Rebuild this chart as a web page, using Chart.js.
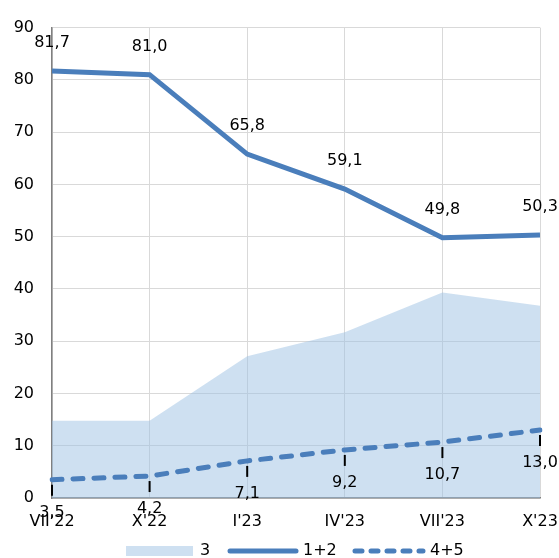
<!DOCTYPE html>
<html>
<head>
<meta charset="utf-8">
<script src="https://cdn.jsdelivr.net/npm/chart.js@4"></script>
<style>
  html, body { margin: 0; padding: 0; background: #fff; }
  #wrap { width: 559px; height: 558px; }
</style>
</head>
<body>
<div id="wrap"><canvas id="chart" width="559" height="558"></canvas></div>
<script>
// dane
const periods = ["VII'22", "X'22", "I'23", "IV'23", "VII'23", "X'23"];
const share3 = [14.8, 14.8, 27.1, 31.7, 39.3, 36.8];
const share12 = [81.7, 81.0, 65.8, 59.1, 49.8, 50.3];
const share45 = [3.5, 4.2, 7.1, 9.2, 10.7, 13.0];
const yTicks = [0, 10, 20, 30, 40, 50, 60, 70, 80, 90];

const FONT = '"DejaVu Sans", Verdana, sans-serif';
const BLUE = '#4a7ebb';
const AREA = 'rgba(157,193,227,0.5)';
const AREA_LEGEND = '#cee0f1';

const fmt = v => v.toFixed(1).replace('.', ',');

// etykiety danych dla linii 1+2 i 4+5
const labelPlugin = {
  id: 'valueLabels',
  afterDatasetsDraw(chart) {
    const ctx = chart.ctx;
    ctx.save();
    ctx.font = '16px ' + FONT;
    ctx.fillStyle = '#000';
    ctx.textAlign = 'center';
    ctx.textBaseline = 'middle';

    const top = chart.getDatasetMeta(1);
    top.data.forEach((pt, i) => {
      ctx.fillText(fmt(share12[i]), pt.x, pt.y - 28);
    });

    const low = chart.getDatasetMeta(2);
    low.data.forEach((pt, i) => {
      ctx.strokeStyle = '#000';
      ctx.lineWidth = 2;
      ctx.beginPath();
      ctx.moveTo(pt.x, pt.y + 5);
      ctx.lineTo(pt.x, pt.y + 16);
      ctx.stroke();
      ctx.fillText(fmt(share45[i]), pt.x, pt.y + 33);
    });
    ctx.restore();
  }
};

// legenda rysowana ręcznie pod osią
const legendPlugin = {
  id: 'bottomLegend',
  afterDraw(chart) {
    const ctx = chart.ctx;
    const y = 551;
    ctx.save();
    ctx.font = '16px ' + FONT;
    ctx.fillStyle = '#000';
    ctx.textBaseline = 'middle';
    ctx.textAlign = 'left';

    ctx.fillStyle = AREA_LEGEND;
    ctx.fillRect(126, y - 5, 67, 10);
    ctx.fillStyle = '#000';
    ctx.fillText('3', 200, y);

    ctx.strokeStyle = BLUE;
    ctx.lineWidth = 5;
    ctx.lineCap = 'round';
    ctx.beginPath();
    ctx.moveTo(230, y);
    ctx.lineTo(296, y);
    ctx.stroke();
    ctx.fillText('1+2', 303, y);

    ctx.setLineDash([7, 9]);
    ctx.beginPath();
    ctx.moveTo(355, y);
    ctx.lineTo(423, y);
    ctx.stroke();
    ctx.setLineDash([]);
    ctx.fillText('4+5', 430, y);
    ctx.restore();
  }
};

new Chart(document.getElementById('chart'), {
  type: 'line',
  data: {
    labels: periods,
    datasets: [
      {
        label: '3',
        data: share3,
        fill: 'origin',
        backgroundColor: AREA,
        borderWidth: 0,
        pointRadius: 0,
        tension: 0,
        order: 3,
      },
      {
        label: '1+2',
        data: share12,
        fill: false,
        borderColor: BLUE,
        borderWidth: 5,
        pointRadius: 0,
        tension: 0,
        order: 1,
      },
      {
        label: '4+5',
        data: share45,
        fill: false,
        borderColor: BLUE,
        borderWidth: 5,
        borderDash: [10, 11],
        borderCapStyle: 'round',
        pointRadius: 0,
        tension: 0,
        order: 2,
      },
    ],
  },
  options: {
    responsive: false,
    animation: false,
    devicePixelRatio: 1,
    layout: { padding: { top: 21, right: 19, left: 0, bottom: 0 } },
    plugins: {
      legend: { display: false },
      tooltip: { enabled: false },
    },
    scales: {
      x: {
        offset: false,
        grid: { color: '#d9d9d9', lineWidth: 1, drawTicks: false },
        border: { color: '#808080', width: 1.5 },
        ticks: {
          font: { family: FONT, size: 16 },
          color: '#000',
          padding: 14,
          maxRotation: 0,
          autoSkip: false,
        },
        afterFit(scale) {
          scale.height = 60;
          scale.paddingLeft = 0;
          scale.paddingRight = 0;
        },
      },
      y: {
        min: 0,
        max: 90,
        afterBuildTicks(scale) { scale.ticks = yTicks.map(v => ({ value: v })); },
        grid: { color: '#d9d9d9', lineWidth: 1, drawTicks: false },
        border: { color: '#808080', width: 1.5 },
        ticks: {
          font: { family: FONT, size: 16 },
          color: '#000',
          padding: 18,
        },
        afterFit(scale) { scale.width = 52; },
      },
    },
  },
  plugins: [labelPlugin, legendPlugin],
});
</script>
</body>
</html>
